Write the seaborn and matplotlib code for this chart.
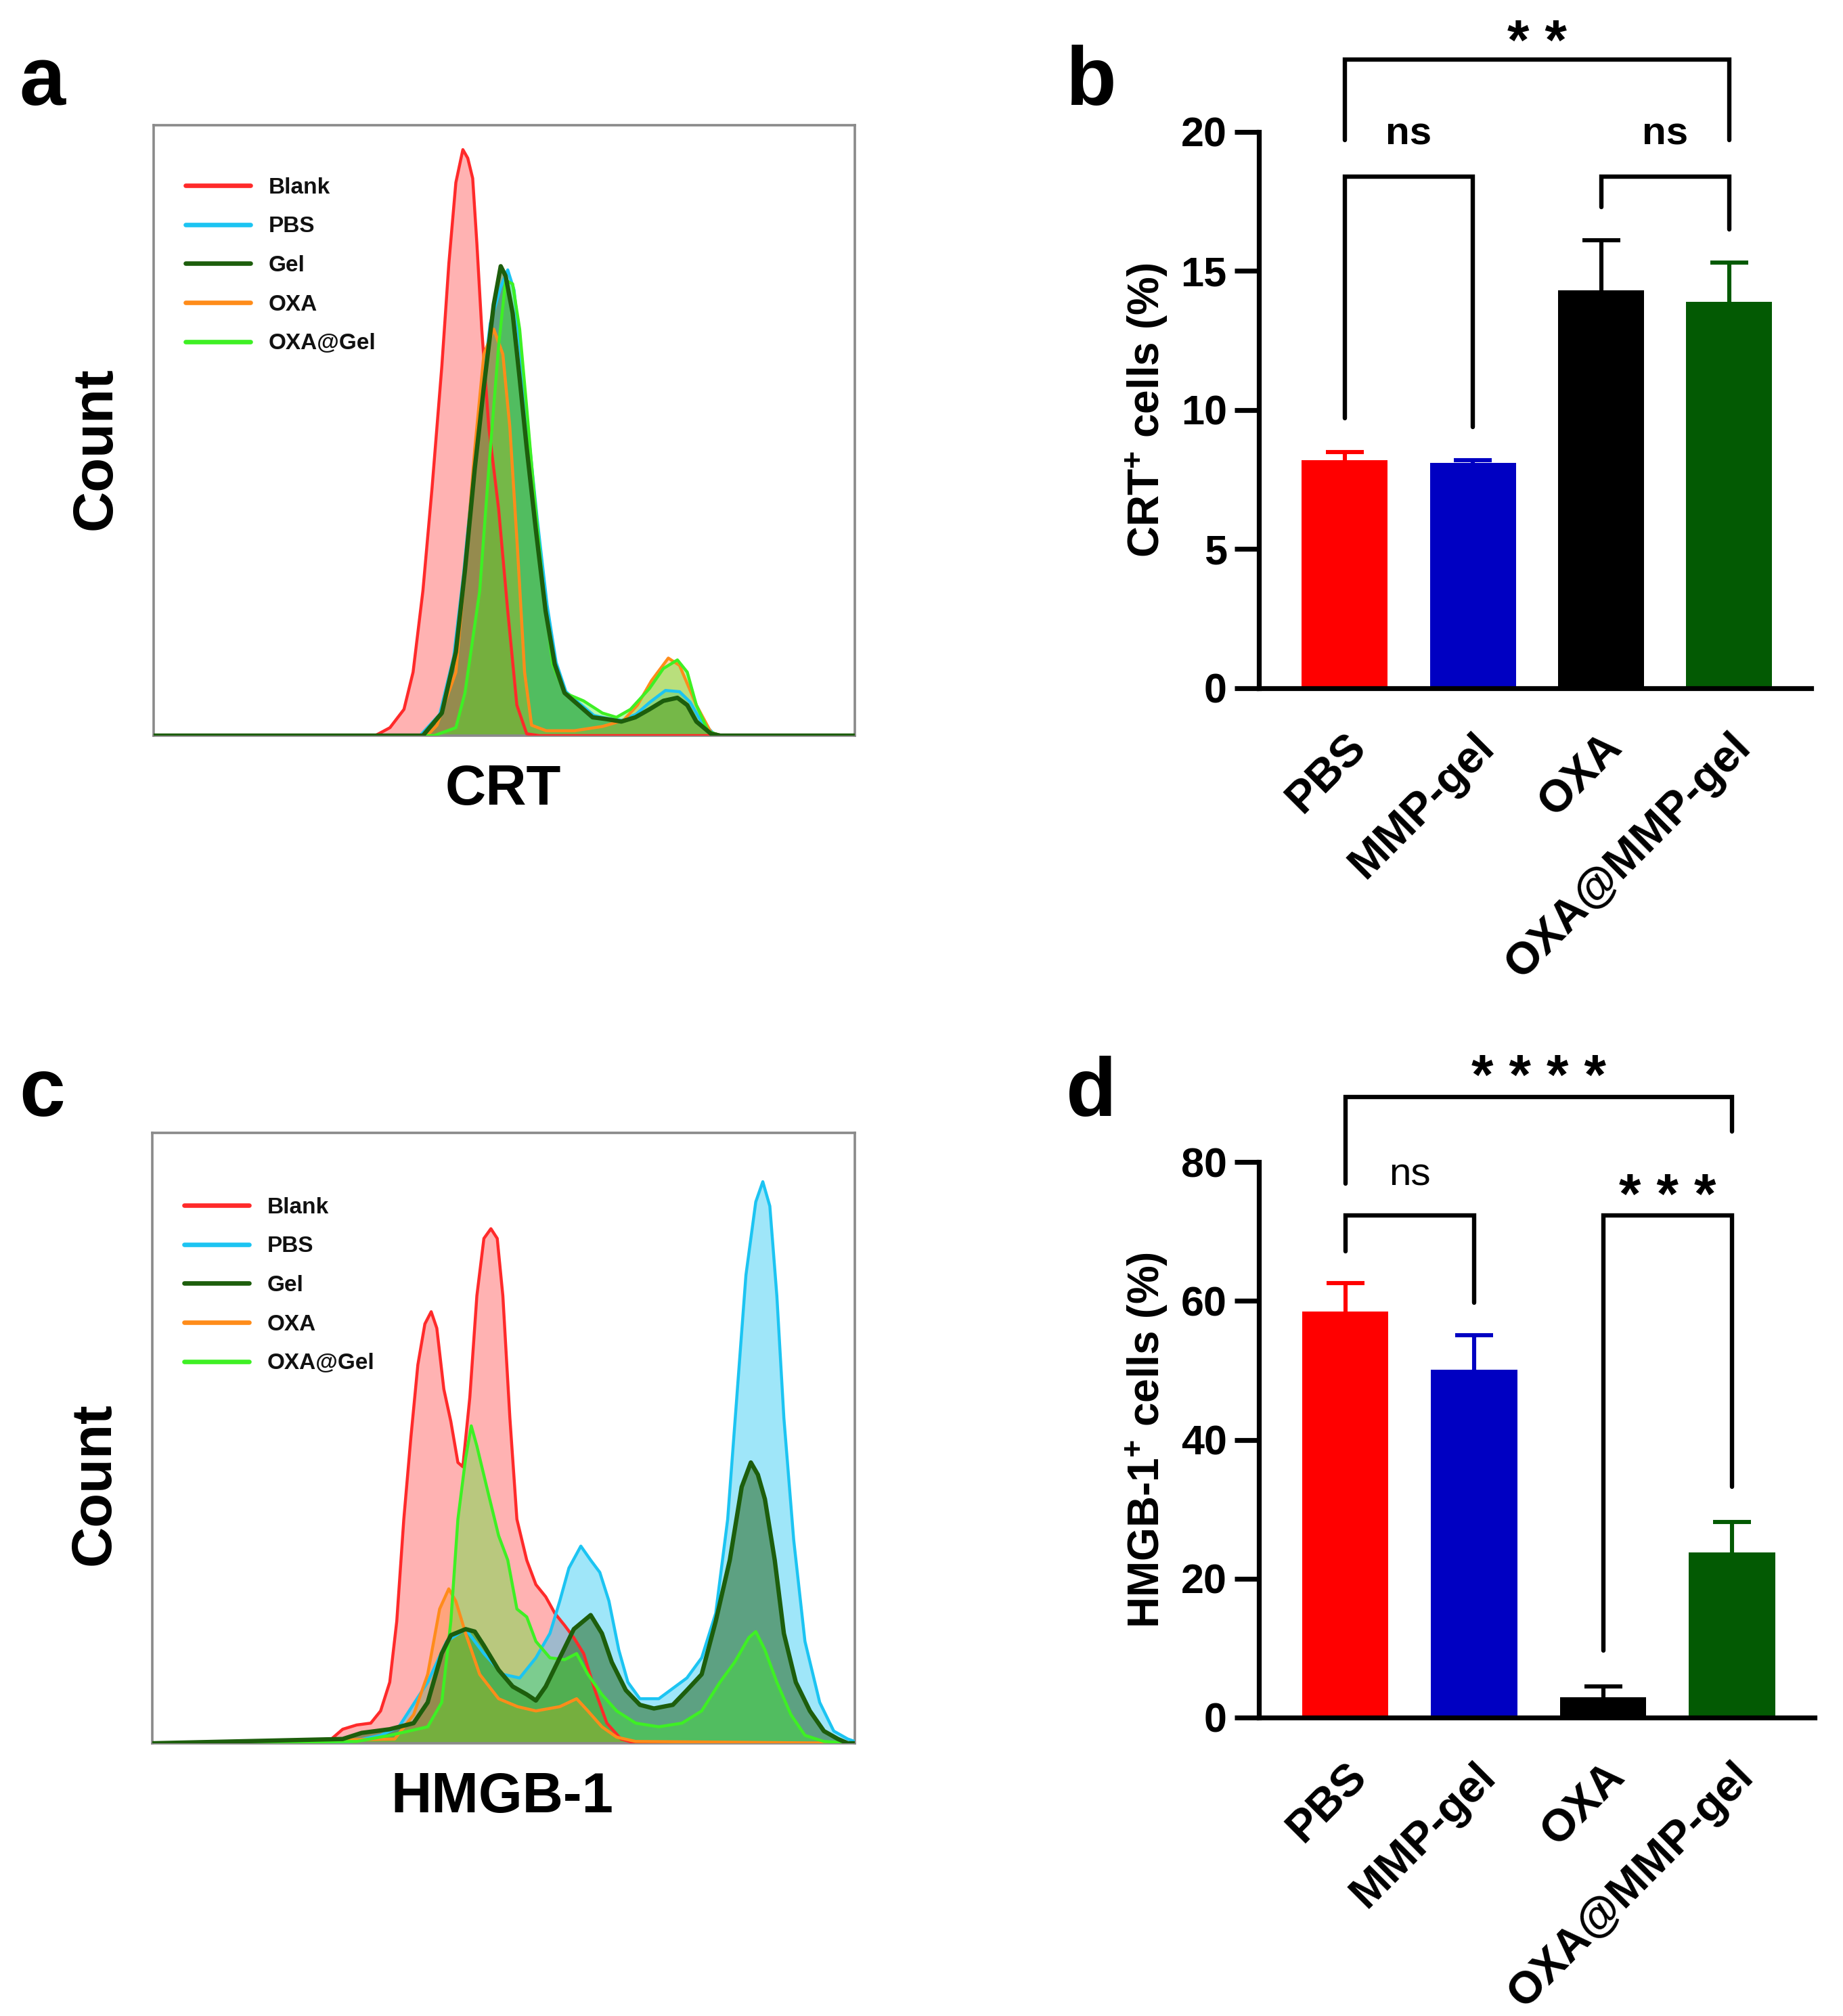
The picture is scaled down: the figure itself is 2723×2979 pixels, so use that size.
import matplotlib
matplotlib.use("Agg")
import matplotlib.pyplot as plt
import numpy as np
import pandas as pd
import seaborn as sns

# ---------------- data ----------------
hist_names = ["Blank", "PBS", "Gel", "OXA", "OXA@Gel"]
hist_colors = ["#ff2a2a", "#1cc4f2", "#1d5e0c", "#ff8c1a", "#3ef024"]
fill_alpha = [0.36, 0.42, 0.50, 0.35, 0.36]

# CRT (panel a): channel position (0-100) and count (% of axis height)
crt_blank_x = [0, 31.6, 33.7, 35.7, 37, 38.4, 39.7, 41.1, 42.1, 43.1, 44.1, 44.8, 45.5, 46.1, 46.8, 47.8, 49.2, 50.5, 51.8, 53.2, 55, 100]
crt_blank_y = [0, 0, 1.3, 4.3, 10.4, 23.7, 40.5, 60.5, 77.3, 90.6, 96, 94.6, 91.3, 80.6, 66.5, 50.5, 37.1, 20.4, 5, 0.3, 0, 0]
crt_pbs_x = [0, 38, 40.8, 42.8, 44.2, 45.6, 47, 48, 49.5, 50.5, 51.4, 52.4, 53.4, 54.7, 56.1, 57.4, 58.8, 60.8, 62.8, 64.8, 66.8, 68.8, 70.8, 73, 75, 76.5, 78, 79.8, 81, 100]
crt_pbs_y = [0, 0, 3.5, 13, 26.5, 43, 58, 67.5, 73.5, 76.3, 73, 62, 50, 35.5, 21.5, 12, 7.2, 5.2, 3.3, 2.8, 2.5, 3.5, 5.5, 7.4, 7.2, 5.5, 2.5, 0.4, 0, 0]
crt_gel_x = [0, 38.4, 41.1, 43.1, 44.4, 45.8, 47.1, 48.5, 49.5, 50.2, 51.2, 52.2, 53.2, 54.5, 55.9, 57.2, 58.6, 60.6, 62.6, 64.6, 66.7, 68.7, 70.7, 72.7, 74.7, 76.1, 77.4, 79.5, 80.8, 100]
crt_gel_y = [0, 0, 3.7, 13.7, 27.1, 43.8, 57.2, 70.6, 76.9, 75.3, 69.2, 58.5, 47.2, 33.8, 20.4, 11.7, 7, 5, 3, 2.7, 2.3, 3, 4.3, 5.7, 6.2, 5, 2.3, 0.3, 0, 0]
crt_oxa_x = [0, 39, 40.4, 43.1, 44.4, 45.8, 47.1, 48.5, 49.8, 50.8, 51.9, 52.9, 53.9, 56, 60, 64, 67, 69, 71, 73.4, 75, 77.4, 79.5, 81, 100]
crt_oxa_y = [0, 0, 1.7, 10.4, 27, 47, 62.5, 66.6, 62.5, 50.5, 30.4, 10.4, 1.7, 0.8, 0.8, 1.5, 2.5, 5, 9, 12.7, 11.5, 5, 0.5, 0, 0]
crt_oxagel_x = [0, 40, 43.1, 44.4, 46.5, 47.8, 49.2, 50.2, 51.2, 52.2, 53.2, 54.2, 55.6, 56.9, 58.6, 61.3, 64, 66, 68, 70.7, 72.7, 74.7, 76.1, 77.4, 79.1, 80.8, 100]
crt_oxagel_y = [0, 0, 1.3, 7, 23.7, 43.8, 63.9, 74.6, 74, 66.6, 53.8, 40.5, 23.7, 11.7, 7, 5.7, 3.7, 3, 4.3, 7.7, 11, 12.4, 10.4, 5, 0.7, 0, 0]

# HMGB-1 (panel c)
hm_blank_x = [0, 25.1, 27.1, 29.1, 31.1, 32.5, 33.8, 34.8, 35.8, 36.8, 37.8, 38.8, 39.7, 40.5, 41.5, 42.5, 43.5, 44.2, 45.2, 46.2, 47.2, 48.2, 49.1, 49.9, 50.9, 51.9, 53.3, 54.6, 56, 57.3, 58.7, 60, 61.4, 63, 64.7, 66.7, 68.8, 100]
hm_blank_y = [0, 0.3, 2.3, 3, 3.3, 5.3, 10, 20, 36.7, 50, 62, 68.7, 70.7, 68, 58, 52.7, 46, 45.3, 56.7, 73.3, 82.7, 84.3, 82.7, 73.3, 53.3, 36.7, 30, 26, 24, 21.3, 19.3, 17.3, 14.7, 8.7, 3.3, 0.7, 0, 0]
hm_pbs_x = [0, 28.4, 32.5, 35.1, 39.2, 41.9, 44.6, 47.2, 49.9, 52.3, 54.6, 56.6, 58, 59.3, 61, 62.4, 63.7, 65, 66.4, 67.7, 69.4, 72.1, 74.1, 76.1, 78.2, 80.2, 81.9, 83.2, 84.5, 85.9, 86.9, 87.9, 88.9, 89.9, 91.3, 92.9, 95, 97, 99, 100]
hm_pbs_y = [0, 0.3, 1.3, 2.7, 10, 16.7, 18.7, 14.7, 11.3, 10.7, 14, 18, 23.3, 28.7, 32.3, 30, 28, 23.3, 15.3, 10, 7.3, 7.3, 9, 10.7, 14, 21.3, 36.7, 56.7, 76.7, 88.7, 92, 88, 73.3, 53.3, 33.3, 16.7, 6.7, 2, 0.7, 0.3]
hm_gel_x = [0, 27.1, 29.8, 33.8, 37.2, 39.2, 41.2, 42.5, 44.6, 45.9, 47.2, 49.3, 51.3, 53.3, 54.6, 56, 58, 60, 62.4, 64, 65.4, 67.4, 69.4, 71.4, 74.1, 76.1, 78.2, 80.2, 82.2, 83.9, 85.2, 86.2, 87.2, 88.6, 89.9, 91.6, 93.6, 95.6, 97.6, 99, 100]
hm_gel_y = [0, 0.7, 1.7, 2.3, 3.3, 6.7, 14.7, 17.7, 18.7, 18.3, 16, 12, 9.3, 8, 7, 9.3, 14, 18.7, 21, 18, 13.3, 8.7, 6.3, 5.7, 6.3, 8.7, 11.3, 20, 30, 42, 46, 44, 40, 30, 18, 10, 5.3, 2, 0.7, 0, 0]
hm_oxa_x = [0, 34.5, 37.2, 39.2, 40.9, 42.2, 43.2, 44.6, 46.6, 49.3, 52, 54.6, 58, 60.4, 62, 64, 66.1, 68.8, 100]
hm_oxa_y = [0, 0.7, 4.7, 11.3, 22, 25.3, 23.3, 18, 11.3, 7.3, 6, 5.3, 6, 7.3, 5.3, 2.7, 1, 0.3, 0]
hm_oxagel_x = [0, 29.1, 33.8, 39.2, 41.2, 42.5, 43.5, 44.6, 45.4, 46.2, 47.6, 49.3, 50.6, 51.9, 53.3, 54.6, 56.6, 58.7, 60.4, 62, 64, 66.1, 68.8, 72.1, 75.4, 78.2, 80.8, 82.9, 84.9, 85.9, 87.2, 88.9, 90.9, 92.9, 95.6, 100]
hm_oxagel_y = [0, 0.3, 1.3, 2.7, 6.7, 20, 36.7, 46.7, 52, 48.7, 42, 34, 30, 22, 20.7, 16.7, 14, 13.7, 14.7, 11.3, 8, 5.3, 3.3, 2.7, 3.3, 5.3, 10, 13.3, 17.3, 18.3, 15.3, 10, 4.7, 1.3, 0.3, 0]

# bar charts
groups = ["PBS", "MMP-gel", "OXA", "OXA@MMP-gel"]
bar_colors = ["#ff0000", "#0000c2", "#000000", "#035a03"]
crt_mean = [8.2, 8.1, 14.3, 13.9]
crt_sd = [0.3, 0.1, 1.8, 1.4]
hmgb_mean = [58.5, 50.1, 2.9, 23.8]
hmgb_sd = [4.1, 5.0, 1.6, 4.4]

# significance brackets: (i, j, bar_y, leg_i_end, leg_j_end, label)
crt_sig = [(0, 1, 18.4, 9.7, 9.4, "ns"), (2, 3, 18.4, 17.3, 16.5, "ns"), (0, 3, 22.6, 19.7, 19.7, "* *")]
hmgb_sig = [(0, 1, 72.3, 67.1, 59.7, "ns"), (2, 3, 72.3, 9.6, 33.2, "* * *"), (0, 3, 89.4, 76.9, 84.4, "* * * *")]

# ---------------- style ----------------
sns.set_theme(style="white")
plt.rcParams["font.family"] = ["Liberation Sans", "DejaVu Sans"]
plt.rcParams["mathtext.fontset"] = "custom"
plt.rcParams["mathtext.rm"] = "Liberation Sans:bold"
plt.rcParams["mathtext.bf"] = "Liberation Sans:bold"
plt.rcParams["mathtext.it"] = "Liberation Sans:bold"
plt.rcParams["text.color"] = "black"
plt.rcParams["axes.labelcolor"] = "black"
plt.rcParams["xtick.color"] = "black"
plt.rcParams["ytick.color"] = "black"

W, H = 2723, 2979
fig = plt.figure(figsize=(W / 200, H / 200), dpi=200)
fig.patch.set_facecolor("white")


def rect(l, t, r, b):
    return [l / W, 1 - b / H, (r - l) / W, (b - t) / H]


ax_a = fig.add_axes(rect(227, 185, 1263, 1087))
ax_c = fig.add_axes(rect(225, 1674, 1263, 2576))
ax_b = fig.add_axes(rect(1860, 195, 2676, 1017))
ax_d = fig.add_axes(rect(1860, 1717, 2681, 2538))


def draw_hist(ax, series, xlabel, leg_y, ylab_y):
    for (xs, ys), col, al in zip(series, hist_colors, fill_alpha):
        ax.fill_between(xs, ys, 0, color=col, alpha=al, lw=0, zorder=1)
    for (xs, ys), col, name in zip(series, hist_colors, hist_names):
        lw = 2.3 if name == "Gel" else 1.6
        z = 5 if name == "Gel" else 3
        sns.lineplot(x=xs, y=ys, ax=ax, color=col, lw=lw, label=name,
                     sort=False, estimator=None, zorder=z)
    ax.set_xlim(0, 100)
    ax.set_ylim(0, 100)
    ax.set_xticks([])
    ax.set_yticks([])
    for s in ax.spines.values():
        s.set_visible(True)
        s.set_color("#8a8a8a")
        s.set_linewidth(1.3)
    leg = ax.legend(loc="upper left", bbox_to_anchor=(0.045, leg_y), frameon=False,
                    prop={"size": 12, "weight": "bold"}, handlelength=2.9,
                    handletextpad=0.8, labelspacing=0.8, borderpad=0, borderaxespad=0)
    for h in leg.legend_handles:
        h.set_linewidth(2.4)
    for t in leg.get_texts():
        t.set_color("#111111")
    ax.set_xlabel(xlabel, fontsize=30, fontweight="bold")
    ax.xaxis.set_label_coords(0.498, -0.045)
    ax.set_ylabel("Count", fontsize=30, fontweight="bold")
    ax.yaxis.set_label_coords(-0.045, ylab_y)


draw_hist(ax_a, [(crt_blank_x, crt_blank_y), (crt_pbs_x, crt_pbs_y), (crt_gel_x, crt_gel_y),
                 (crt_oxa_x, crt_oxa_y), (crt_oxagel_x, crt_oxagel_y)], "CRT", 0.915, 0.47)
draw_hist(ax_c, [(hm_blank_x, hm_blank_y), (hm_pbs_x, hm_pbs_y), (hm_gel_x, hm_gel_y),
                 (hm_oxa_x, hm_oxa_y), (hm_oxagel_x, hm_oxagel_y)], "HMGB-1", 0.895, 0.425)


def draw_bars(ax, means, sds, ymax, yticks, ylabel, sigs, ns_weight, ns_base, star_off):
    df = pd.DataFrame({"group": groups, "value": means})
    sns.barplot(data=df, x="group", y="value", hue="group", palette=bar_colors,
                legend=False, width=0.67, saturation=1, errorbar=None, ax=ax,
                linewidth=0, zorder=2)
    for i, (m, s, c) in enumerate(zip(means, sds, bar_colors)):
        _, caps, _ = ax.errorbar(i, m, yerr=[[0], [s]], fmt="none", ecolor=c,
                                 elinewidth=2.2, capsize=10, capthick=2.2, zorder=3)
        # keep only the upper cap
        for cap in caps:
            if np.allclose(cap.get_ydata(), m):
                cap.set_visible(False)
    ax.set_xlim(-0.67, 3.64)
    ax.set_ylim(0, ymax)
    ax.set_yticks(yticks)
    ax.set_yticklabels([str(t) for t in yticks], fontsize=22, fontweight="bold")
    ax.set_xticks(range(len(groups)))
    ax.set_xticklabels(groups, rotation=45, ha="right", rotation_mode="anchor",
                       fontsize=24, fontweight="bold")
    ax.tick_params(axis="x", length=0, pad=20)
    ax.tick_params(axis="y", length=13, width=2.6, pad=4, color="black", left=True)
    for side in ["top", "right"]:
        ax.spines[side].set_visible(False)
    for side in ["left", "bottom"]:
        ax.spines[side].set_color("black")
        ax.spines[side].set_linewidth(2.6)
    ax.set_xlabel("")
    ax.set_ylabel(ylabel, fontsize=23, fontweight="bold")
    ax.yaxis.set_label_coords(-0.16, 0.5)
    for (i, j, y, yi, yj, lab) in sigs:
        ax.plot([i, i, j, j], [yi, y, y, yj], color="black", lw=2.3, clip_on=False,
                solid_joinstyle="miter", zorder=4)
        if lab == "ns":
            ax.text((i + j) / 2, y + ns_base, lab, ha="center", va="baseline",
                    fontsize=21, fontweight=ns_weight, clip_on=False)
        else:
            ax.text((i + j) / 2, y + star_off, lab, ha="center", va="baseline",
                    fontsize=30, fontweight="bold", clip_on=False)


draw_bars(ax_b, crt_mean, crt_sd, 20, [0, 5, 10, 15, 20], r"CRT$^{+}$ cells (%)",
          crt_sig, "bold", 1.15, 0.0)
draw_bars(ax_d, hmgb_mean, hmgb_sd, 80, [0, 20, 40, 60, 80], r"HMGB-1$^{+}$ cells (%)",
          hmgb_sig, "normal", 4.3, 0.3)

for lab, x, y in [("a", 28, 155), ("b", 1575, 155), ("c", 28, 1649), ("d", 1575, 1649)]:
    fig.text(x / W, 1 - y / H, lab, fontsize=44, fontweight="bold", va="baseline", ha="left")

fig.savefig("out.png", dpi=200, facecolor="white")
